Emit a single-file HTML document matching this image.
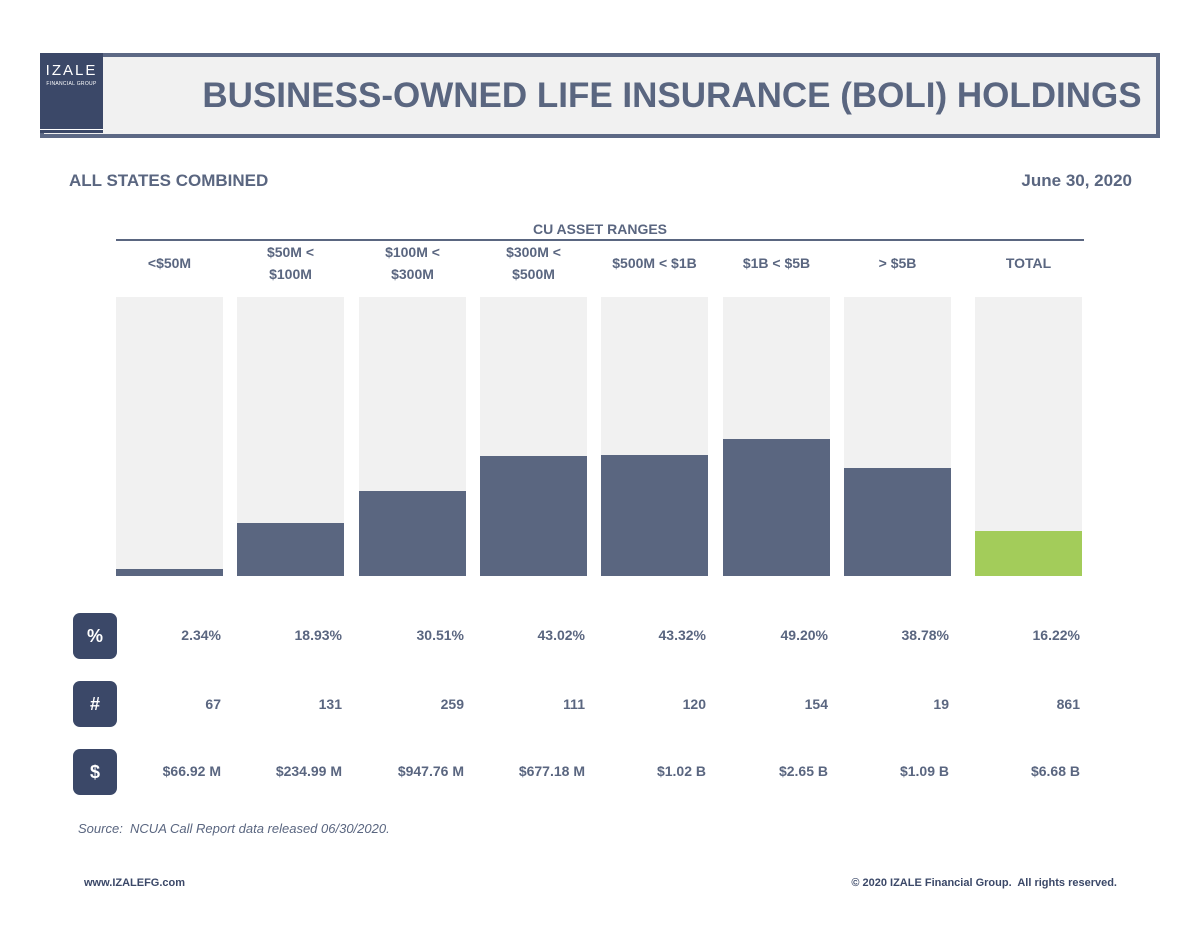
<!DOCTYPE html>
<html><head><meta charset="utf-8">
<style>
body{margin:0;width:1200px;height:927px;background:#fff;font-family:"Liberation Sans",sans-serif;position:relative;overflow:hidden;color:#5a6680}
.abs{position:absolute}
.b{font-weight:bold}
</style></head><body>
<div class="abs" style="left:40px;top:53px;width:1112px;height:77px;border:4px solid #5d6985;background:#f1f1f1"></div>
<div class="abs" style="left:40px;top:53px;width:63px;height:80px;background:#3b4868;color:#fff;text-align:center">
<div style="font-size:15px;letter-spacing:2px;margin-top:9px">IZALE</div>
<div style="font-size:5px;letter-spacing:0.3px;margin-top:2px">FINANCIAL GROUP</div>
<div style="position:absolute;left:0;top:76px;width:63px;height:1px;background:#fff"></div>
</div>
<div class="abs b" style="left:103px;top:76px;width:1138px;text-align:center;font-size:35px;color:#5a6680">BUSINESS-OWNED LIFE INSURANCE (BOLI) HOLDINGS</div>
<div class="abs b" style="left:69px;top:171px;font-size:17px">ALL STATES COMBINED</div>
<div class="abs b" style="right:68px;top:171px;font-size:17px">June 30, 2020</div>
<div class="abs b" style="left:116px;width:968px;top:221px;text-align:center;font-size:14px">CU ASSET RANGES</div>
<div class="abs" style="left:116px;top:239px;width:968px;height:2px;background:#5a6680"></div>
<div id="chart"></div>
<div class="abs" style="left:78px;top:821px;font-size:13px;font-style:italic">Source:&nbsp; NCUA Call Report data released 06/30/2020.</div>
<div class="abs b" style="left:84px;top:877px;font-size:11px;color:#3b4868">www.IZALEFG.com</div>
<div class="abs b" style="right:83px;top:877px;font-size:11px;color:#3b4868">© 2020 IZALE Financial Group.&nbsp; All rights reserved.</div>
<script>
const categories=["<$50M","$50M <<br>$100M","$100M <<br>$300M","$300M <<br>$500M","$500M < $1B","$1B < $5B","> $5B","TOTAL"];
const pctValues=[2.34,18.93,30.51,43.02,43.32,49.20,38.78,16.22];
const pctLabels=["2.34%","18.93%","30.51%","43.02%","43.32%","49.20%","38.78%","16.22%"];
const countLabels=["67","131","259","111","120","154","19","861"];
const dollarLabels=["$66.92 M","$234.99 M","$947.76 M","$677.18 M","$1.02 B","$2.65 B","$1.09 B","$6.68 B"];
const lefts=[116,237,359,480,601,723,844,975];
const W=107,top0=297,bottom=576;
const y=v=>bottom-(v/100)*(bottom-top0);
const c=document.getElementById('chart');
function mk(css,html){const d=document.createElement('div');d.className='abs';d.style.cssText=css;if(html!==undefined)d.innerHTML=html;c.appendChild(d);return d;}
categories.forEach((cat,i)=>{
  const x=lefts[i];
  const lab=mk(`left:${x}px;width:${W}px;top:${cat.includes('<br>')?241:252}px;text-align:center;font-size:14px;font-weight:bold;line-height:22px`,cat);
  
  
  const bg=mk(`left:${x}px;width:${W}px;top:${top0}px;height:${bottom-top0}px;background:#f1f1f1`);
  
  
  const bar=mk(`left:${x}px;width:${W}px;top:${y(pctValues[i])}px;height:${bottom-y(pctValues[i])}px;background:${i==7?'#a3cc5a':'#5a6680'}`);
  
  
  [[pctLabels,627],[countLabels,696],[dollarLabels,763]].forEach(([arr,t])=>{
    const v=mk(`left:${x}px;width:${W-2}px;top:${t}px;text-align:right;font-size:14px;font-weight:bold`,arr[i]);
    
    
  });
});
[["%",613],["#",681],["$",749]].forEach(([s,t])=>{
  const d=mk(`left:73px;top:${t}px;width:44px;height:46px;border-radius:7px;background:#3b4868;color:#fff;font-weight:bold;font-size:18px;text-align:center;line-height:46px`,s);
  
  
});
</script>
</body></html>
